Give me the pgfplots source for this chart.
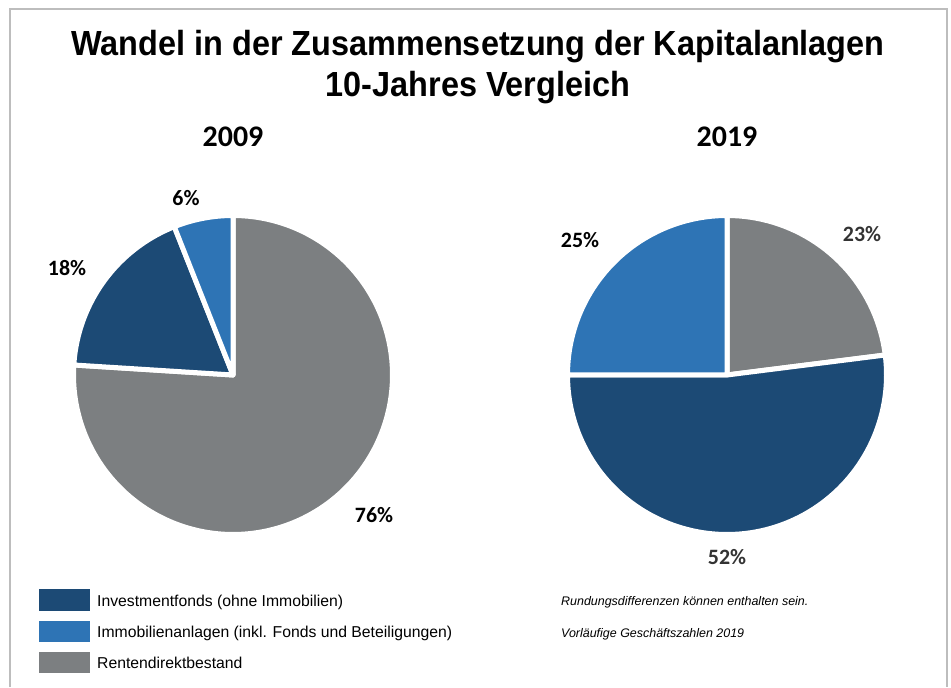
\documentclass[border=0pt]{standalone}
\usepackage{pgfplots}
\pgfplotsset{compat=1.18}
\usepackage{fontspec}
\setmainfont{Liberation Sans}
\newfontfamily\carlito{Carlito}
\definecolor{navy}{HTML}{1C4A75}
\definecolor{midblue}{HTML}{2E74B5}
\definecolor{slate}{HTML}{7C7F81}
\definecolor{framegray}{HTML}{BDBDBD}
% shares in percent
\def\RentenA{76}\def\InvA{18}\def\ImmoA{6}
\def\RentenB{23}\def\InvB{52}\def\ImmoB{25}
\begin{document}
\begin{tikzpicture}[x=1bp,y=1bp]
\begin{axis}[scale only axis, width=951bp, height=687bp,
  xmin=0, xmax=951, ymin=0, ymax=687, hide axis, clip=false]
\path (0,0) rectangle (951,687);
\draw[framegray, line width=1.5bp] (10,0) -- (10,678) -- (947,678) -- (947,0);
% ---- 2009 pie (clockwise from top)
\pgfmathsetmacro{\aA}{90-3.6*\RentenA}
\addplot[draw=white, line width=5bp, line join=round, fill=slate, domain=\aA:90, samples=150, variable=\t]
  ({233+159.5*cos(t)},{312+159.5*sin(t)}) -- (233,312) -- cycle;
\addplot[draw=white, line width=5bp, line join=round, fill=navy, domain={90+3.6*\ImmoA}:{\aA+360}, samples=60, variable=\t]
  ({233+159.5*cos(t)},{312+159.5*sin(t)}) -- (233,312) -- cycle;
\addplot[draw=white, line width=5bp, line join=round, fill=midblue, domain=90:{90+3.6*\ImmoA}, samples=20, variable=\t]
  ({233+159.5*cos(t)},{312+159.5*sin(t)}) -- (233,312) -- cycle;
% ---- 2019 pie
\addplot[draw=white, line width=5bp, line join=round, fill=slate, domain={90-3.6*\RentenB}:90, samples=40, variable=\t]
  ({727+159.5*cos(t)},{312+159.5*sin(t)}) -- (727,312) -- cycle;
\addplot[draw=white, line width=5bp, line join=round, fill=navy, domain={90-3.6*\RentenB-3.6*\InvB}:{90-3.6*\RentenB}, samples=100, variable=\t]
  ({727+159.5*cos(t)},{312+159.5*sin(t)}) -- (727,312) -- cycle;
\addplot[draw=white, line width=5bp, line join=round, fill=midblue, domain=90:{90+3.6*\ImmoB}, samples=50, variable=\t]
  ({727+159.5*cos(t)},{312+159.5*sin(t)}) -- (727,312) -- cycle;
% ---- titles
\node[font=\fontsize{35}{40}\selectfont\bfseries] at (478,640) {\scalebox{0.93}[1]{Wandel in der Zusammensetzung der Kapitalanlagen}};
\node[font=\fontsize{35}{40}\selectfont\bfseries] at (478,599) {\scalebox{0.93}[1]{10-Jahres Vergleich}};
\node[font=\fontsize{30}{36}\selectfont\carlito\bfseries] at (233,550) {2009};
\node[font=\fontsize{30}{36}\selectfont\carlito\bfseries] at (727,550) {2019};
% ---- percentages
\node[font=\fontsize{22}{26}\selectfont\carlito\bfseries] at (186,489) {6\%};
\node[font=\fontsize{22}{26}\selectfont\carlito\bfseries] at (67,419) {18\%};
\node[font=\fontsize{22}{26}\selectfont\carlito\bfseries] at (374,172) {76\%};
\node[font=\fontsize{22}{26}\selectfont\carlito\bfseries] at (580,447) {25\%};
\node[font=\fontsize{22}{26}\selectfont\carlito\bfseries, text=black!80] at (862,453) {23\%};
\node[font=\fontsize{22}{26}\selectfont\carlito\bfseries, text=black!80] at (727,130) {52\%};
% ---- legend
\fill[navy] (39,76) rectangle (90,98);
\fill[midblue] (39,45) rectangle (90,66);
\fill[slate] (39,14) rectangle (90,35);
\node[anchor=base west, inner sep=0pt, font=\fontsize{15.8}{18}\selectfont] at (97,81) {Investmentfonds (ohne Immobilien)};
\node[anchor=base west, inner sep=0pt, font=\fontsize{15.8}{18}\selectfont] at (97,50) {Immobilienanlagen (inkl. Fonds und Beteiligungen)};
\node[anchor=base west, inner sep=0pt, font=\fontsize{15.8}{18}\selectfont] at (97,19) {Rentendirektbestand};
\node[anchor=base west, inner sep=0pt, font=\fontsize{12.5}{15}\selectfont\itshape] at (561,82) {Rundungsdifferenzen können enthalten sein.};
\node[anchor=base west, inner sep=0pt, font=\fontsize{12.5}{15}\selectfont\itshape] at (561,50) {Vorläufige Geschäftszahlen 2019};
\end{axis}
\end{tikzpicture}
\end{document}
